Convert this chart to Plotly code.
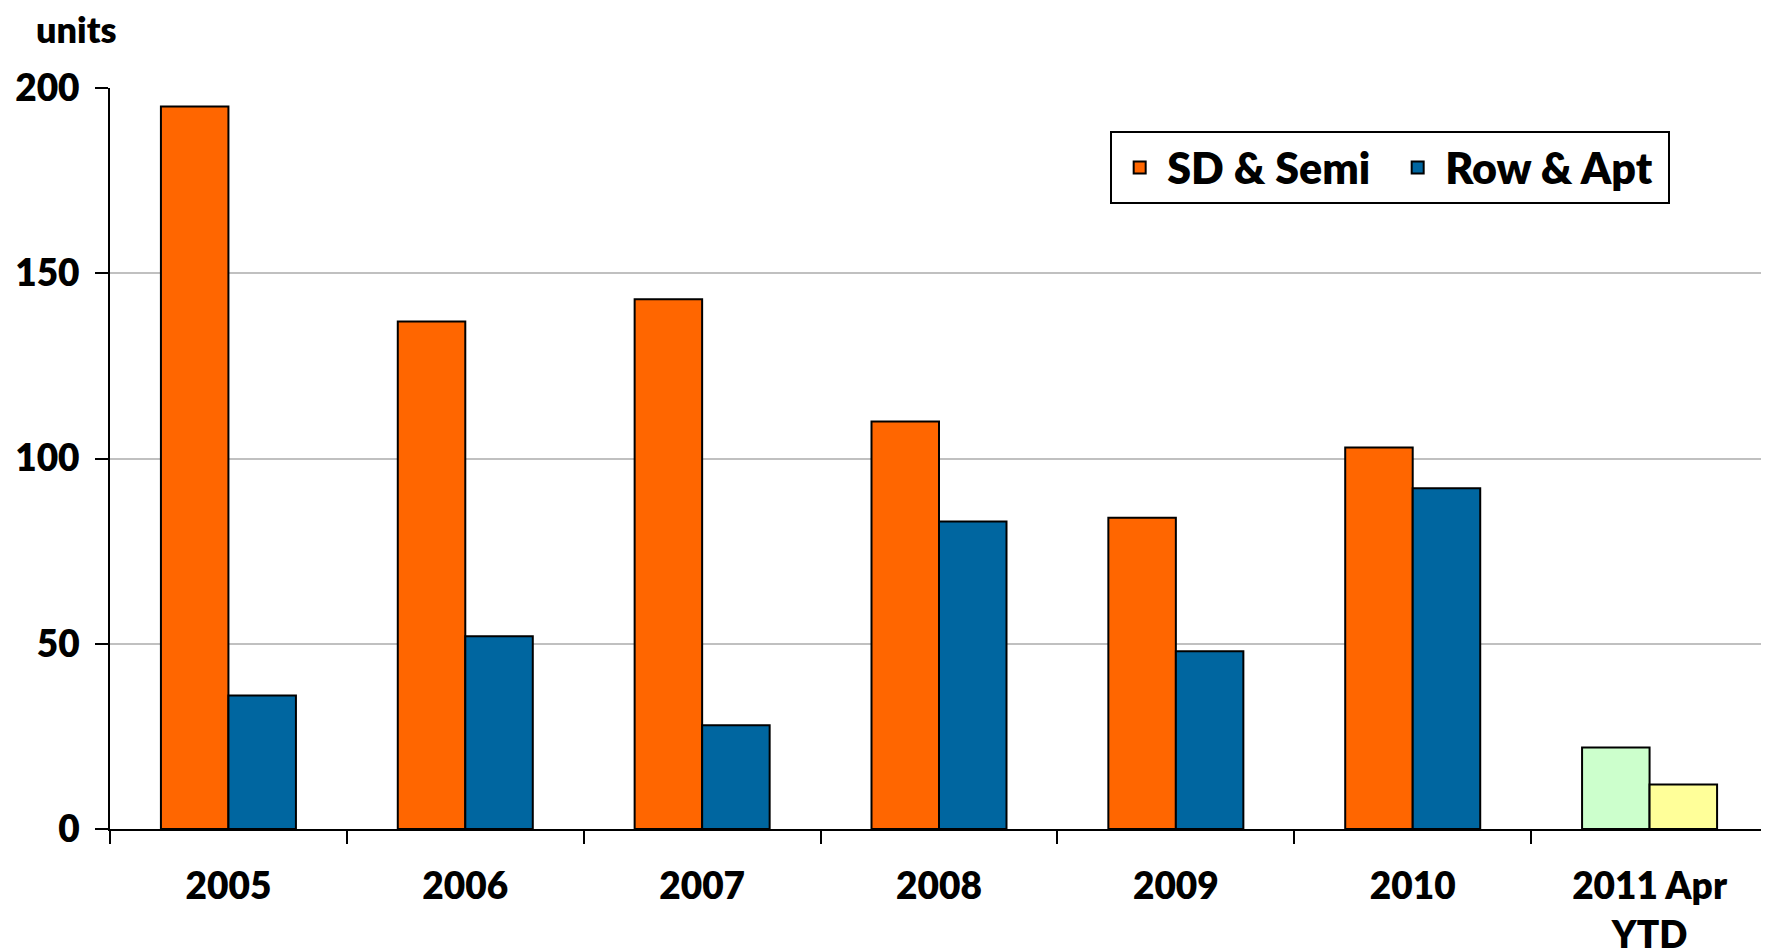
import plotly.graph_objects as go

categories = ["2005", "2006", "2007", "2008", "2009", "2010", "2011 Apr<br>YTD"]
sd_semi = [195, 137, 143, 110, 84, 103, 22]
row_apt = [36, 52, 28, 83, 48, 92, 12]
y_ticks = [0, 50, 100, 150, 200]

sd_colors = ["#FF6600"] * 6 + ["#CCFFCC"]
row_colors = ["#0066A0"] * 6 + ["#FFFF99"]

FONT = "Lato"
W = 800

fig = go.Figure()
fig.add_trace(go.Bar(
    x=categories, y=sd_semi, name="SD & Semi",
    marker=dict(color=sd_colors, line=dict(color="black", width=2)),
))
fig.add_trace(go.Bar(
    x=categories, y=row_apt, name="Row & Apt",
    marker=dict(color=row_colors, line=dict(color="black", width=2)),
))

fig.update_layout(
    width=1769, height=952,
    margin=dict(l=102, r=9, t=80, b=131, autoexpand=False),
    paper_bgcolor="white", plot_bgcolor="white",
    barmode="group", bargap=0.43, bargroupgap=0,
    font=dict(family=FONT, size=36, color="black", weight=W),
    showlegend=True,
    legend=dict(
        orientation="h", x=0.941, xanchor="right", y=0.942, yanchor="top",
        bordercolor="black", borderwidth=2, bgcolor="white",
        font=dict(family=FONT, size=43, color="black", weight=W),
        itemwidth=45, traceorder="normal", entrywidth=218,
    ),
    annotations=[dict(
        text="units", xref="paper", yref="paper", x=-0.046, y=1.08,
        xanchor="left", yanchor="middle", showarrow=False,
        font=dict(family=FONT, size=36, color="black", weight=W),
    )],
)

fig.update_xaxes(
    showline=True, linecolor="black", linewidth=2, automargin=False,
    ticks="outside", tickson="boundaries", ticklen=13, tickwidth=2, tickcolor="black",
    showgrid=False, ticklabelstandoff=24,
    tickfont=dict(family=FONT, size=37, color="black", weight=W),
)
fig.update_yaxes(
    range=[0, 200], tickvals=y_ticks, automargin=False,
    showline=True, linecolor="black", linewidth=2,
    ticks="outside", ticklen=13, tickwidth=2, tickcolor="black",
    showgrid=True, gridcolor="#C0C0C0", gridwidth=2,
    zeroline=False, ticklabelstandoff=8,
    tickfont=dict(family=FONT, size=37, color="black", weight=W),
)

fig.write_html("out.html")
